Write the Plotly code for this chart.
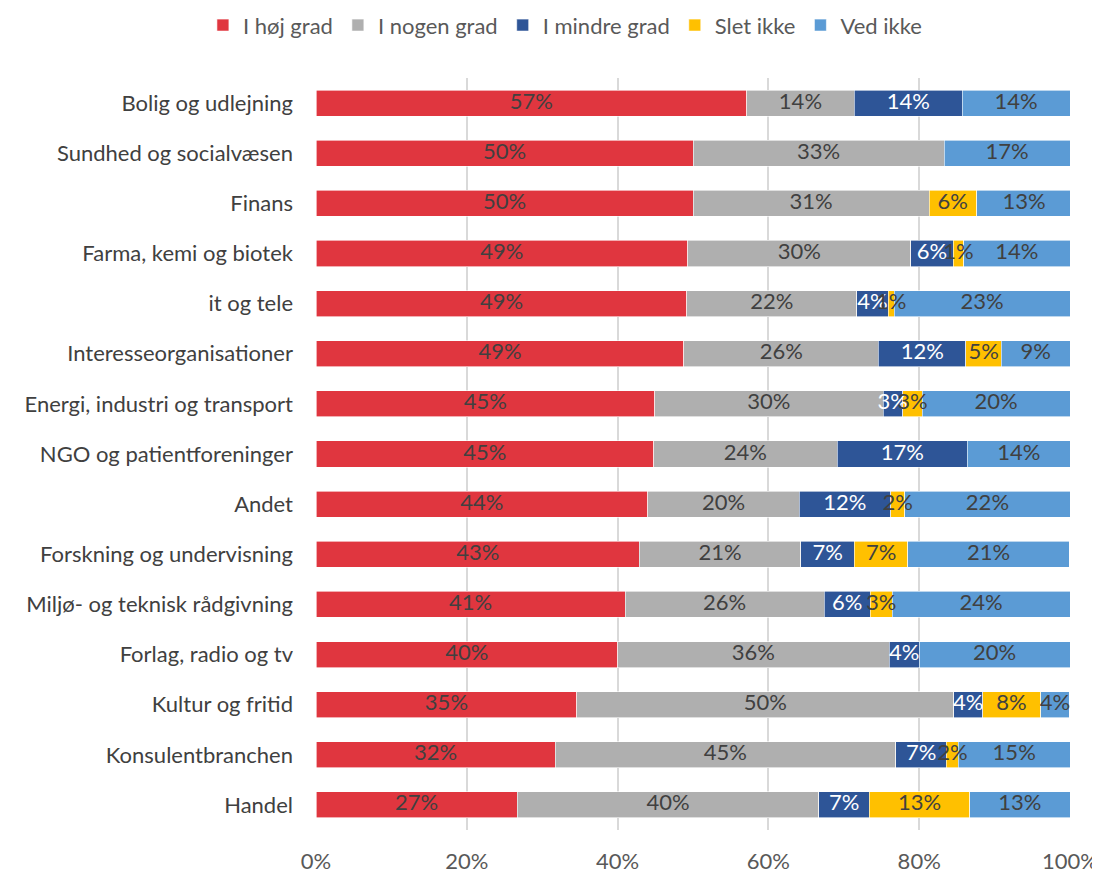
import plotly.graph_objects as go

categories = [
    "Bolig og udlejning", "Sundhed og socialvæsen", "Finans", "Farma, kemi og biotek",
    "it og tele", "Interesseorganisationer", "Energi, industri og transport",
    "NGO og patientforeninger", "Andet", "Forskning og undervisning",
    "Miljø- og teknisk rådgivning", "Forlag, radio og tv", "Kultur og fritid",
    "Konsulentbranchen", "Handel",
]

i_hoej_grad = [57.1, 50.0, 50.0, 49.3, 49.2, 48.8, 44.9, 44.8, 44.0, 42.9, 41.0, 40.0, 34.6, 31.7, 26.7]
i_nogen_grad = [14.3, 33.3, 31.3, 29.6, 22.5, 25.8, 30.3, 24.3, 20.1, 21.4, 26.4, 36.0, 50.0, 45.2, 40.0]
i_mindre_grad = [14.3, 0.0, 0.0, 5.6, 4.2, 11.6, 2.6, 17.3, 12.1, 7.1, 6.1, 4.0, 3.8, 6.7, 6.7]
slet_ikke = [0.0, 0.0, 6.3, 1.4, 0.8, 4.7, 2.6, 0.0, 1.9, 7.1, 2.9, 0.0, 7.7, 1.6, 13.3]
ved_ikke = [14.3, 16.7, 12.6, 14.1, 23.3, 9.1, 19.6, 13.6, 21.9, 21.4, 23.6, 20.0, 3.8, 14.8, 13.3]

series = [
    ("I høj grad", i_hoej_grad, "#E0363F", "#404040"),
    ("I nogen grad", i_nogen_grad, "#AFAFAF", "#404040"),
    ("I mindre grad", i_mindre_grad, "#2E5597", "#FFFFFF"),
    ("Slet ikke", slet_ikke, "#FFC000", "#404040"),
    ("Ved ikke", ved_ikke, "#5B9BD5", "#404040"),
]

FONT = "Lato"

fig = go.Figure()
base = [0.0] * len(categories)
label_x, label_y, label_t, label_c = [], [], [], []
for name, vals, color, tcolor in series:
    fig.add_trace(go.Bar(
        name=name, y=categories, x=vals, orientation="h",
        marker=dict(color=color, line=dict(color="white", width=0.6)),
        textposition="none", hoverinfo="skip",
    ))
    for i, v in enumerate(vals):
        if v > 0:
            label_x.append(base[i] + v / 2)
            label_y.append(categories[i])
            label_t.append(f"{v:.0f}%")
            label_c.append(tcolor)
        base[i] += v

fig.add_trace(go.Scatter(
    x=label_x, y=label_y, text=label_t, mode="text",
    textposition="middle center",
    textfont=dict(size=22, color=label_c, family=FONT),
    showlegend=False, hoverinfo="skip", cliponaxis=False,
))

fig.update_layout(
    barmode="stack",
    width=1092, height=864,
    margin=dict(l=308, r=30, t=70, b=42, autoexpand=False),
    paper_bgcolor="white", plot_bgcolor="white",
    bargap=0.48,
    font=dict(family=FONT, size=22, color="#404040"),
    legend=dict(
        orientation="h", x=0.51, xanchor="center", xref="container",
        y=0.980, yanchor="middle", yref="container",
        font=dict(size=22, color="#595959", family=FONT),
        traceorder="normal", itemclick=False,
    ),
    showlegend=True,
)
fig.update_xaxes(
    range=[0, 100], tickvals=[0, 20, 40, 60, 80, 100],
    ticktext=["0%", "20%", "40%", "60%", "80%", "100%"],
    showgrid=True, gridcolor="#D9D9D9", gridwidth=1.5, zeroline=False,
    tickfont=dict(size=22, color="#595959", family=FONT), ticks="",
    ticklabelstandoff=16, automargin=False, fixedrange=True,
)
fig.update_yaxes(
    range=[len(categories) - 0.5, -0.5], ticks="", ticklen=0,
    tickfont=dict(size=22, color="#404040", family=FONT),
    ticklabelstandoff=22, automargin=False, fixedrange=True,
)

fig.write_html("out.html")
